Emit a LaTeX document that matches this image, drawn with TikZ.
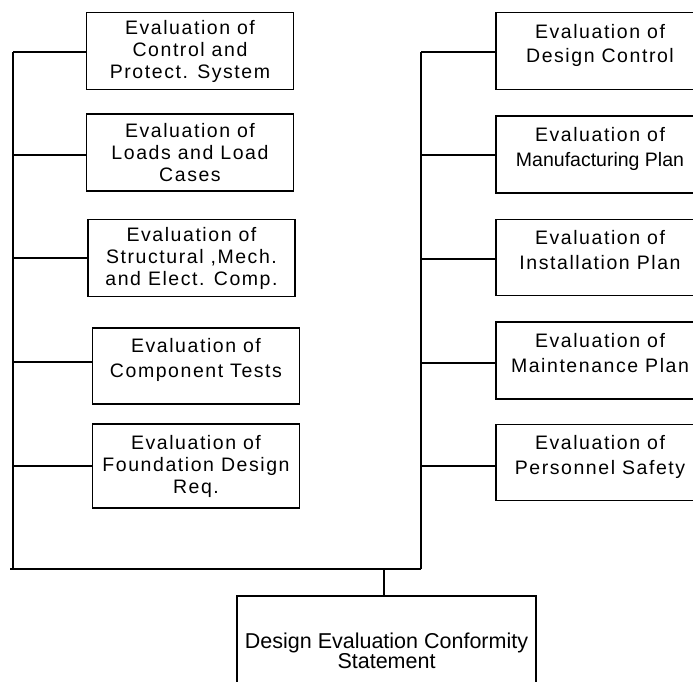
\documentclass[tikz,border=0pt]{standalone}
\usepackage{fontspec}
\setmainfont{Liberation Sans}
\newfontfamily\evalfont[LetterSpace=8]{Liberation Sans}
\usetikzlibrary{positioning}

\begin{document}
\begin{tikzpicture}[x=1pt,y=-1pt,line width=1.5pt,node distance=25pt,
  eval box/.style={rectangle,draw,align=center,inner sep=0pt,minimum width=207pt,minimum height=77pt,font={\evalfont\fontsize{19.5}{22}\selectfont}},
  top text/.style={text depth=15pt,font={\evalfont\fontsize{19.5}{24.5}\selectfont}},
  final box/.style={rectangle,draw,align=center,inner sep=0pt,minimum width=299pt,minimum height=110pt,font={\fontsize{21.5}{18}\selectfont}}]
  \useasboundingbox (0,0) rectangle (693,681);
  \clip (0,0) rectangle (693,681);

  % left column
  \node[eval box] (ctrl) at (190,51) {Evaluation of\\Control and\\Protect. System};
  \node[eval box] (loads) at (190,152.5) {Evaluation of\\Loads and Load\\Cases};
  \node[eval box] (struct) at (191.5,258) {Evaluation of\\Structural ,Mech.\\and Elect. Comp.};
  \node[eval box,top text,text depth=16pt,minimum height=76pt] (tests) at (196,366) {Evaluation of\\Component Tests};
  \node[eval box,minimum height=84pt] (found) at (196,466) {Evaluation of\\Foundation Design\\Req.};

  % right column
  \node[eval box,top text,minimum width=208pt] (design) at (600,51) {Evaluation of\\Design Control};
  \node[eval box,top text,minimum width=208pt] (manuf) [below=of design] {Evaluation of\\{\addfontfeature{LetterSpace=0}Manufacturing Plan}};
  \node[eval box,top text,minimum width=208pt,minimum height=76pt] (install) [below=of manuf] {Evaluation of\\Installation Plan};
  \node[eval box,top text,minimum width=208pt] (maint) [below=of install] {Evaluation of\\Maintenance Plan};
  \node[eval box,top text,minimum width=208pt,minimum height=76pt] (safety) [below=24pt of maint] {Evaluation of\\Personnel Safety};

  \node[final box] (conform) at (386.5,651) {Design Evaluation Conformity\\Statement};

  % collecting lines
  \coordinate (lbus1) at (13,52);
  \coordinate (lbus2) at (13,155);
  \coordinate (lbus3) at (13,258);
  \coordinate (lbus4) at (13,362);
  \coordinate (lbus5) at (13,466);
  \coordinate (rbus1) at (421,52);
  \coordinate (rbus2) at (421,155);
  \coordinate (rbus3) at (421,259);
  \coordinate (rbus4) at (421,363);
  \coordinate (rbus5) at (421,466);
  \coordinate (lcorner) at (13,569);
  \coordinate (bstart) at (10,569);
  \coordinate (rcorner) at (421,569);
  \coordinate (drop) at (384,569);

  \draw (lbus1) -- (lbus1 -| ctrl.west);
  \draw (lbus2) -- (lbus2 -| loads.west);
  \draw (lbus3) -- (lbus3 -| struct.west);
  \draw (lbus4) -- (lbus4 -| tests.west);
  \draw (lbus5) -- (lbus5 -| found.west);
  \draw (rbus1) -- (rbus1 -| design.west);
  \draw (rbus2) -- (rbus2 -| manuf.west);
  \draw (rbus3) -- (rbus3 -| install.west);
  \draw (rbus4) -- (rbus4 -| maint.west);
  \draw (rbus5) -- (rbus5 -| safety.west);

  \draw (lbus1) -- (lcorner);
  \draw (rbus1) -- (rcorner);
  \draw (bstart) -- (rcorner);
  \draw (drop) -- (drop |- conform.north);
\end{tikzpicture}
\end{document}
